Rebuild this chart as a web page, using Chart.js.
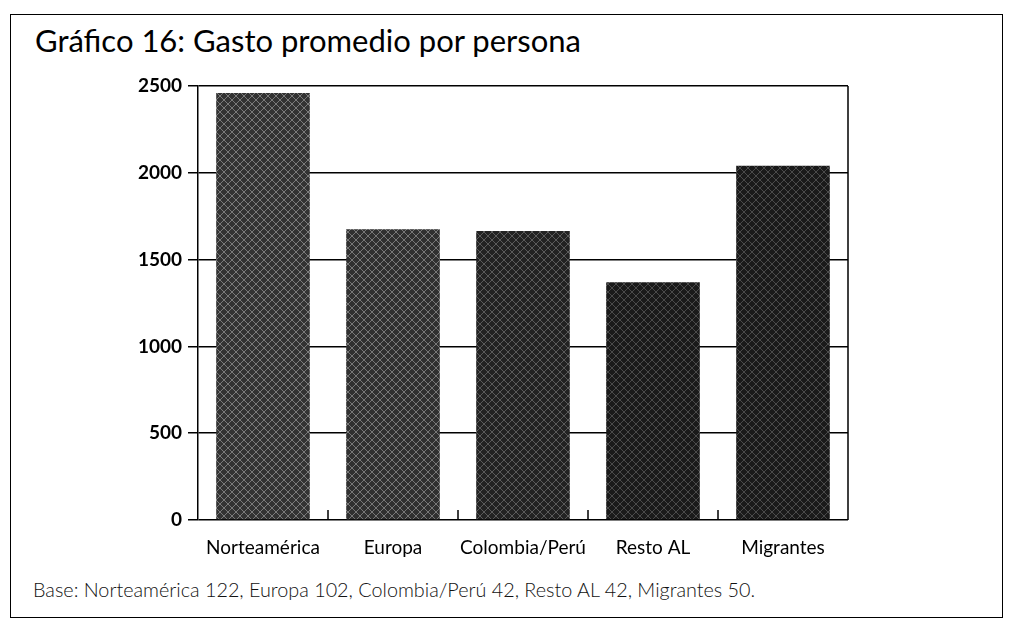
<!DOCTYPE html>
<html>
<head>
<meta charset="utf-8">
<title>Gráfico 16</title>
<script src="https://cdn.jsdelivr.net/npm/chart.js@4"></script>
<style>
  body { margin: 0; background: #fff; width: 1013px; height: 627px; overflow: hidden; position: relative; font-family: Lato, "Open Sans", sans-serif; }
  #marco { position: absolute; left: 10px; top: 14px; width: 991px; height: 602px; border: 1.5px solid #000; }
  #titulo { position: absolute; left: 35px; top: 21px; font-size: 31px; color: #000; }
  #base { position: absolute; left: 33px; top: 577px; font-size: 19.8px; color: #111; font-weight: 300; }
  #lienzo { position: absolute; left: 0; top: 60px; }
</style>
</head>
<body>
<div id="marco"></div>
<div id="titulo">Gráfico 16: Gasto promedio por persona</div>
<canvas id="lienzo" width="1013" height="500"></canvas>
<div id="base">Base: Norteamérica 122, Europa 102, Colombia/Perú 42, Resto AL 42, Migrantes 50.</div>
<script>
// datos
const categorias = ['Norteamérica', 'Europa', 'Colombia/Perú', 'Resto AL', 'Migrantes'];
const gasto = [2460, 1675, 1665, 1370, 2040];
const ticksY = [0, 500, 1000, 1500, 2000, 2500];

// trama tipo fotocopia para las barras
function trama(fondo, rayas) {
  const c = document.createElement('canvas');
  c.width = 8; c.height = 8;
  const g = c.getContext('2d');
  g.fillStyle = fondo;
  g.fillRect(0, 0, 8, 8);
  g.strokeStyle = rayas;
  g.lineWidth = 1;
  g.beginPath();
  g.moveTo(0, 8); g.lineTo(8, 0);
  g.moveTo(0, 0); g.lineTo(8, 8);
  g.stroke();
  return g.createPattern(c, 'repeat');
}
const colores = [
  trama('#333', '#7a7a7a'),
  trama('#303030', '#777'),
  trama('#222', '#5a5a5a'),
  trama('#1a1a1a', '#4a4a4a'),
  trama('#1a1a1a', '#4a4a4a'),
];

const bordes = {
  id: 'bordes',
  afterDraw(chart) {
    const { ctx, chartArea: a, scales: { x } } = chart;
    ctx.save();
    ctx.strokeStyle = '#000';
    ctx.lineWidth = 1.5;
    ctx.beginPath();
    ctx.moveTo(a.right, a.top);
    ctx.lineTo(a.right, a.bottom);
    for (let i = 1; i < categorias.length; i++) {
      const px = (x.getPixelForValue(i - 1) + x.getPixelForValue(i)) / 2;
      ctx.moveTo(px, a.bottom);
      ctx.lineTo(px, a.bottom - 10);
    }
    ctx.stroke();
    ctx.restore();
  }
};

new Chart(document.getElementById('lienzo'), {
  type: 'bar',
  data: {
    labels: categorias,
    datasets: [{
      label: 'Gasto promedio',
      data: gasto,
      backgroundColor: colores,
      borderWidth: 0,
      barPercentage: 0.72,
      categoryPercentage: 1.0,
    }]
  },
  options: {
    responsive: false,
    animation: false,
    layout: { padding: { top: 26, right: 165, bottom: 0, left: 0 } },
    plugins: { legend: { display: false }, tooltip: { enabled: false } },
    scales: {
      x: {
        grid: { display: false },
        border: { display: false },
        ticks: { color: '#000', font: { family: 'Lato', size: 19 }, padding: 8, maxRotation: 0, autoSkip: false },
        afterFit: s => { s.height = 40; }
      },
      y: {
        min: 0,
        max: 2500,
        afterBuildTicks: s => { s.ticks = ticksY.map(v => ({ value: v })); },
        grid: { color: '#000', lineWidth: 1.5, tickLength: 10 },
        border: { display: true, color: '#000', width: 1.5 },
        ticks: { color: '#000', font: { family: 'Lato', size: 19, weight: 'bold' }, padding: 6, callback: v => String(v) },
        afterFit: s => { s.width = 198; }
      }
    }
  },
  plugins: [bordes]
});
</script>
</body>
</html>
